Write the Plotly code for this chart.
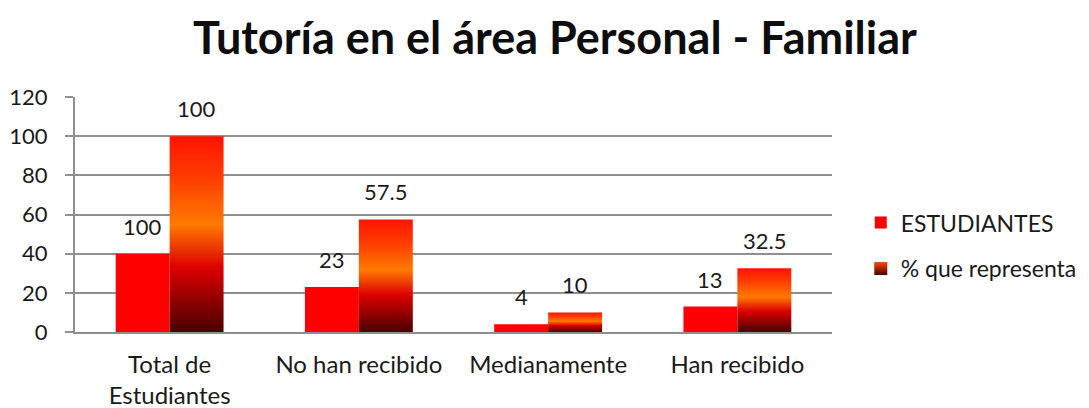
import plotly.graph_objects as go

categories = ["Total de<br>Estudiantes", "No han recibido", "Medianamente", "Han recibido"]
estudiantes = [40, 23, 4, 13]
estudiantes_labels = ["100", "23", "4", "13"]
porcentaje = [100, 57.5, 10, 32.5]
porcentaje_labels = ["100", "57.5", "10", "32.5"]
y_ticks = [0, 20, 40, 60, 80, 100, 120]

FONT = "Lato"
TXT = "#1a1a1a"
GRID = "#8f8f8f"
W = 0.285  # bar width in category units
grad_scale = [[0.0, "#480000"], [0.33, "#dd0000"], [0.55, "#ff7a00"], [0.8, "#ff3a00"], [1.0, "#ff1400"]]

xs = list(range(len(categories)))
fig = go.Figure()

fig.add_trace(go.Bar(
    x=xs, y=estudiantes, width=W, offset=-W,
    marker=dict(color="#ff0000", line=dict(width=0)),
    name="ESTUDIANTES", legendgroup="a",
))

for i, v in zip(xs, porcentaje):
    fig.add_trace(go.Scatter(
        x=[i, i, i + W, i + W, i], y=[0, v, v, 0, 0],
        mode="lines", line=dict(width=0), fill="toself",
        fillgradient=dict(type="vertical", colorscale=grad_scale, start=0, stop=v),
        showlegend=False, hoverinfo="skip",
    ))

fig.add_trace(go.Scatter(
    x=[None], y=[None], mode="markers", name="% que representa", legendgroup="b",
    marker=dict(symbol="square", size=13, color="#ff4a00",
                gradient=dict(type="vertical", color="#480000")),
))

for i, v, t in zip(xs, estudiantes, estudiantes_labels):
    fig.add_annotation(x=i - W / 2, y=v, text=t, showarrow=False, yanchor="bottom", yshift=12,
                       font=dict(family=FONT, size=22, color=TXT))
for i, v, t in zip(xs, porcentaje, porcentaje_labels):
    fig.add_annotation(x=i + W / 2, y=v, text=t, showarrow=False, yanchor="bottom", yshift=12,
                       font=dict(family=FONT, size=22, color=TXT))

fig.update_layout(
    width=1081, height=400,
    margin=dict(l=67, r=257, t=89, b=76, autoexpand=False),
    paper_bgcolor="white", plot_bgcolor="white",
    font=dict(family=FONT, size=22, color=TXT),
    title=dict(text="<b>Tutoría en el área Personal - Familiar</b>", x=0.506, xanchor="center",
               y=0.9235, yanchor="middle", font=dict(family=FONT, size=45, color="#0d0d0d")),
    showlegend=True,
    legend=dict(x=1.038, xanchor="left", y=0.557, yanchor="top", tracegroupgap=13,
                itemwidth=30, font=dict(family=FONT, size=23, color=TXT),
                bgcolor="rgba(0,0,0,0)"),
    xaxis=dict(range=[-0.5, 3.5], tickvals=xs, ticktext=categories, showgrid=False,
               showline=True, linecolor=GRID, linewidth=2, ticks="", zeroline=False,
               automargin=False, ticklabelstandoff=10,
               tickfont=dict(family=FONT, size=24, color=TXT)),
    yaxis=dict(range=[0, 120], tickvals=y_ticks, showgrid=True, gridcolor=GRID, gridwidth=2,
               showline=True, linecolor=GRID, linewidth=2, ticks="outside", ticklen=8,
               tickcolor=GRID, tickwidth=2, zeroline=False, ticklabelstandoff=13,
               automargin=False, tickfont=dict(family=FONT, size=22, color=TXT)),
)

fig.write_html("out.html")
